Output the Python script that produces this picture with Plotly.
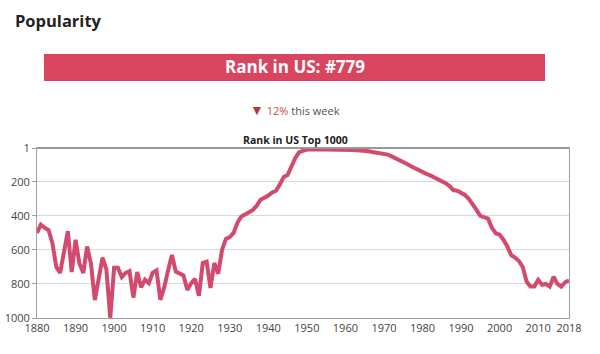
import plotly.graph_objects as go

years = list(range(1880, 2019))
ranks = [
    500, 452, 470, 483, 560, 700, 735, 600, 490, 730,   # 1880-1889
    540, 680, 735, 580, 680, 895, 760, 645, 715, 1000,  # 1890-1899
    705, 705, 760, 735, 725, 880, 730, 820, 775, 795,   # 1900-1909
    735, 720, 893, 820, 720, 630, 727, 736, 750, 835,   # 1910-1919
    795, 770, 870, 677, 669, 823, 677, 740, 600, 535,   # 1920-1929
    525, 500, 440, 404, 388, 378, 365, 340, 305, 295,   # 1930-1939
    280, 262, 252, 215, 172, 160, 110, 60, 25, 15,      # 1940-1949
    10, 8, 8, 8, 9, 10, 10, 11, 11, 12,                 # 1950-1959
    12, 13, 13, 14, 15, 16, 20, 24, 28, 30,             # 1960-1969
    35, 40, 50, 60, 70, 82, 95, 108, 120, 133,          # 1970-1979
    145, 153, 162, 172, 185, 195, 208, 225, 248, 252,   # 1980-1989
    262, 277, 300, 330, 365, 400, 408, 416, 470, 502,   # 1990-1999
    510, 540, 580, 630, 645, 665, 700, 786, 815, 815,   # 2000-2009
    776, 805, 800, 815, 757, 800, 815, 790, 779,        # 2010-2018
]
x_ticks = [1880, 1890, 1900, 1910, 1920, 1930, 1940, 1950, 1960, 1970, 1980, 1990, 2000, 2010, 2018]
y_ticks = [1, 200, 400, 600, 800, 1000]
current_rank = 779
weekly_change = "12%"

fig = go.Figure()
fig.add_trace(go.Scatter(
    x=years, y=ranks, mode="lines",
    line=dict(color="#d34a6e", width=4),
    hoverinfo="x+y",
))

L, R, T, B = 37, 31, 148, 36
W, H = 600, 354
pw, ph = W - L - R, H - T - B

def px(x):
    return (x - L) / pw

def py(y):
    return (H - B - y) / ph

fig.update_layout(
    width=W, height=H,
    margin=dict(l=L, r=R, t=T, b=B, pad=0, autoexpand=False),
    paper_bgcolor="white", plot_bgcolor="white",
    showlegend=False,
    font=dict(family="Open Sans", size=11, color="#444"),
    xaxis=dict(
        range=[1880, 2018], tickvals=x_ticks, ticktext=[str(v) for v in x_ticks],
        showgrid=False, zeroline=False, showline=True, mirror=True,
        linecolor="#a0a0a0", linewidth=1, ticks="", automargin=False,
        tickfont=dict(family="Open Sans", size=11, color="#444"),
    ),
    yaxis=dict(
        range=[1000, 1], tickvals=y_ticks, ticktext=[str(v) for v in y_ticks],
        showgrid=True, gridcolor="#d9d9d9", gridwidth=1, zeroline=False,
        showline=True, mirror=True, linecolor="#a0a0a0", linewidth=1,
        ticks="outside", ticklen=4, tickcolor="#a0a0a0", automargin=False,
        tickfont=dict(family="Open Sans", size=11, color="#444"),
    ),
    shapes=[
        dict(type="rect", xref="paper", yref="paper",
             x0=px(44), x1=px(545), y0=py(81), y1=py(54),
             fillcolor="#d9445f", line=dict(width=0), layer="above"),
        dict(type="line", xref="paper", yref="paper",
             x0=0, x1=1, y0=1, y1=1, line=dict(color="#999", width=2)),
    ],
    annotations=[
        dict(text="<b>Popularity</b>", xref="paper", yref="paper",
             x=px(13), y=py(20), xanchor="left", yanchor="middle", showarrow=False,
             font=dict(family="Open Sans", size=16.5, color="#222")),
        dict(text="<b>Rank in US: #%d</b>" % current_rank, xref="paper", yref="paper",
             x=px(295), y=py(67), xanchor="center", yanchor="middle", showarrow=False,
             font=dict(family="Open Sans", size=17, color="white")),
        dict(text="<span style='color:#b33a3a;font-size:14px'>▼</span> <span style='color:#c0504d'>%s</span> this week" % weekly_change,
             xref="paper", yref="paper",
             x=px(295), y=py(110), xanchor="center", yanchor="middle", showarrow=False,
             font=dict(family="Open Sans", size=11, color="#555")),
        dict(text="<b>Rank in US Top 1000</b>", xref="paper", yref="paper",
             x=px(295), y=py(140), xanchor="center", yanchor="middle", showarrow=False,
             font=dict(family="Open Sans", size=10.5, color="#222")),
    ],
)

fig.write_html("out.html")
